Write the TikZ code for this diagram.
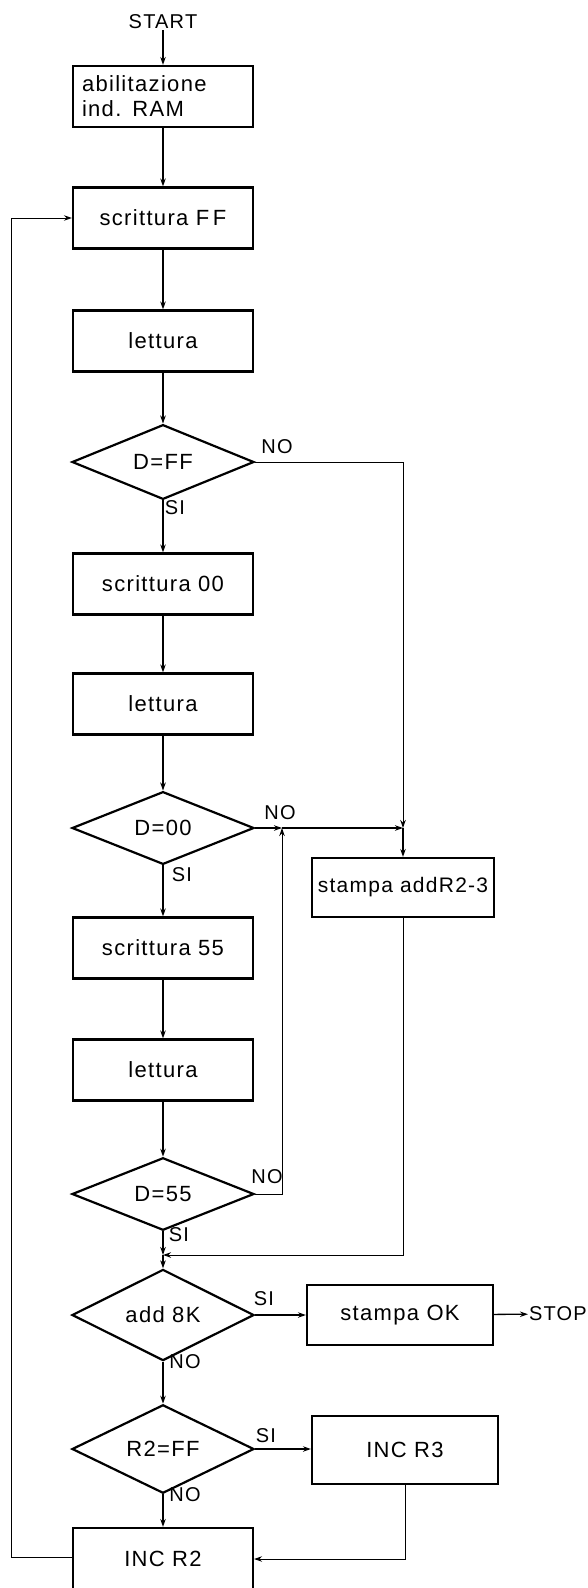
\documentclass[tikz,border=0pt]{standalone}
\usepackage{fontspec}
\setmainfont{Liberation Sans}[LetterSpace=6]
\usetikzlibrary{positioning,arrows.meta,shapes.geometric}

\begin{document}
\begin{tikzpicture}[x=1pt, y=-1pt,
    box/.style={draw, line width=2.2pt, minimum width=180pt, minimum height=61pt,
                inner sep=0pt, font=\fontsize{22}{25}\selectfont, align=center},
    dec/.style={draw, diamond, line width=2.2pt, minimum width=182pt, minimum height=64pt,
                inner sep=0pt, font=\fontsize{22}{25}\selectfont},
    lbl/.style={font=\fontsize{20}{22}\selectfont, inner sep=1pt},
    arr/.style={-{Stealth[length=8pt, width=5.5pt]}, line width=1.3pt},
    thin/.style={line width=1pt}
  ]
  \useasboundingbox (0,0) rectangle (587,1588);
  % --- main column ---
  \node[lbl] (start) at (163,22) {START};
  \node[box, align=left, text width=162pt] (ram) at (163,96.5) {abilitazione\\ind. RAM};
  \node[box] (sff) at (163,218) {scrittura F\,F};
  \node[box] (let1) at (163,341) {lettura};
  \node[dec] (dff) at (163,462) {D=FF};
  \node[box] (s00) at (163,584) {scrittura 00};
  \node[box] (let2) at (163,704) {lettura};
  \node[dec] (d00) at (163,828) {D=00};
  \node[box] (s55) at (163,948) {scrittura 55};
  \node[box] (let3) at (163,1070) {lettura};
  \node[dec] (d55) at (163,1194) {D=55};
  \node[dec] (d8k) at (163,1315) {add 8K};
  \node[dec] (r2ff) at (163,1449) {R2=FF};
  \node[box, minimum height=62pt] (inc2) at (163,1559) {INC R2};
  % --- right column ---
  \node[box, minimum width=182pt, minimum height=59pt,
        font=\fontsize{21}{25}\selectfont] (prt) at (403,887.5) {stampa addR2-3};
  \node[box, minimum width=186pt, minimum height=60pt] (sok) at (400,1315) {stampa OK};
  \node[lbl] (stop) at (558,1314) {STOP};
  \node[box, minimum width=186pt, minimum height=68pt] (inc3) at (405,1450) {INC R3};
  % junctions
  \coordinate (jm) at (163,1255);
  \coordinate (mj) at (282,828);
  \coordinate (jr) at (403,828);
  \coordinate (fb) at (11,1557);
  % --- labels ---
  \node[lbl] (noff) at (277,447) {NO};
  \node[lbl] (siff) at (175,508) {SI};
  \node[lbl] (no00) at (280,813) {NO};
  \node[lbl] (si00) at (182,875) {SI};
  \node[lbl] (no55) at (267,1177) {NO};
  \node[lbl] (si55) at (179,1235) {SI};
  \node[lbl] (si8k) at (264,1299) {SI};
  \node[lbl] (no8k) at (185,1362) {NO};
  \node[lbl] (sir2) at (266,1436) {SI};
  \node[lbl] (nor2) at (185,1495) {NO};
  % --- connectors ---
  \draw[arr] (start) -- (ram);
  \draw[arr] (ram) -- (sff);
  \draw[arr] (sff) -- (let1);
  \draw[arr] (let1) -- (dff);
  \draw[arr] (dff) -- (s00);
  \draw[arr] (s00) -- (let2);
  \draw[arr] (let2) -- (d00);
  \draw[arr] (d00) -- (s55);
  \draw[arr] (s55) -- (let3);
  \draw[arr] (let3) -- (d55);
  \draw[arr] (d55) -- (jm);
  \draw[arr] (jm) -- (d8k);
  \draw[arr] (d8k) -- (r2ff);
  \draw[arr] (r2ff) -- (inc2);
  \draw[arr] (d8k.east) -- (d8k.east -| sok.west);
  \draw[arr] (sok) -- (stop);
  \draw[arr] (r2ff.east) -- (r2ff.east -| inc3.west);
  \draw[arr, thin] (inc3.south) |- (inc2.east);
  \draw[arr, thin] (inc2.west |- fb) -- (fb) |- (sff.west);
  % error branch
  \draw[arr, thin] (dff.east) -| (jr);
  \draw[arr] (d00.east) -- (mj);
  \draw[arr, thin] (d55.east) -| (mj);
  \draw[arr] (mj) -- (jr);
  \draw[arr] (jr) -- (prt);
  \draw[arr, thin] (prt.south) |- (jm);
\end{tikzpicture}
\end{document}
